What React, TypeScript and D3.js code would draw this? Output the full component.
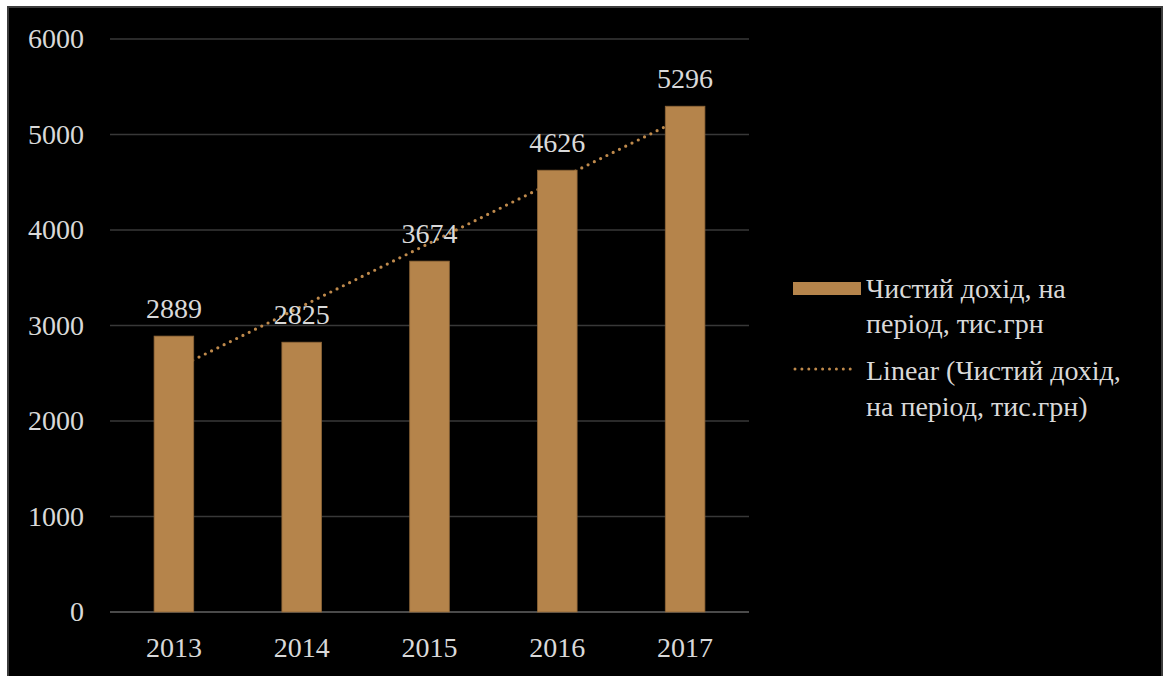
import React from "react";
import * as d3 from "d3";

const categories = ["2013", "2014", "2015", "2016", "2017"];
const values = [2889, 2825, 3674, 4626, 5296];
const yTicks = [0, 1000, 2000, 3000, 4000, 5000, 6000];
const legendBar = ["Чистий дохід, на", "період, тис.грн"];
const legendTrend = ["Linear (Чистий дохід,", "на період, тис.грн)"];

const W = 1168;
const H = 676;
const BAR = "#b5844b";
const TEXT = "#d9d9d9";
const FONT = "'Liberation Serif', 'Times New Roman', serif";

export default function App() {
  const x = d3.scaleBand<string>().domain(categories).range([110, 749]).paddingInner(0.69).paddingOuter(0.345);
  const y = d3.scaleLinear().domain([0, 6000]).range([612, 39]);

  // linear regression trendline (Excel "Linear")
  const xs = values.map((_, i) => i + 1);
  const mx = d3.mean(xs)!;
  const my = d3.mean(values)!;
  const slope = d3.sum(xs.map((v, i) => (v - mx) * (values[i] - my))) / d3.sum(xs.map((v) => (v - mx) ** 2));
  const intercept = my - slope * mx;
  const cx = (i: number) => x(categories[i])! + x.bandwidth() / 2;
  const trendPts: [number, number][] = [0, values.length - 1].map((i) => [cx(i), y(intercept + slope * (i + 1))]);
  const line = d3.line();

  return (
    <svg width={W} height={H} style={{ position: "absolute", left: 0, top: 0, display: "block" }}>
      <rect x={0} y={0} width={W} height={H} fill="#ffffff" />
      <rect x={8} y={7} width={1154} height={680} fill="#000000" stroke="#3c3c3c" strokeWidth={2} />
      {yTicks.map((t) => (
        <g key={t}>
          <line x1={110} x2={749} y1={y(t)} y2={y(t)} stroke={t === 0 ? "#4a4a4a" : "#383838"} strokeWidth={t === 0 ? 2 : 1.3} />
          <text x={84} y={y(t) + 9} textAnchor="end" fill={TEXT} fontFamily={FONT} fontSize={28}>
            {t}
          </text>
        </g>
      ))}
      <path d={line(trendPts)!} stroke="#bf8a4c" strokeWidth={3.2} strokeDasharray="0 7" strokeLinecap="round" fill="none" />
      {values.map((v, i) => (
        <rect key={i} x={x(categories[i])} y={y(v)} width={x.bandwidth()} height={y(0) - y(v)} fill={BAR} stroke="#8d6537" strokeWidth={0.8} />
      ))}
      {values.map((v, i) => (
        <text key={"l" + i} x={cx(i)} y={y(v) - 18} textAnchor="middle" fill={TEXT} fontFamily={FONT} fontSize={28}>
          {v}
        </text>
      ))}
      {categories.map((c, i) => (
        <text key={c} x={cx(i)} y={657} textAnchor="middle" fill={TEXT} fontFamily={FONT} fontSize={28}>
          {c}
        </text>
      ))}
      <rect x={793} y={282} width={68} height={13} fill={BAR} />
      <line x1={795} x2={857} y1={369} y2={369} stroke="#bf8a4c" strokeWidth={3} strokeDasharray="0 6.9" strokeLinecap="round" />
      {legendBar.map((s, i) => (
        <text key={s} x={866} y={298 + i * 35} fill={TEXT} fontFamily={FONT} fontSize={28}>
          {s}
        </text>
      ))}
      {legendTrend.map((s, i) => (
        <text key={s} x={866} y={380 + i * 36} fill={TEXT} fontFamily={FONT} fontSize={28}>
          {s}
        </text>
      ))}
    </svg>
  );
}
